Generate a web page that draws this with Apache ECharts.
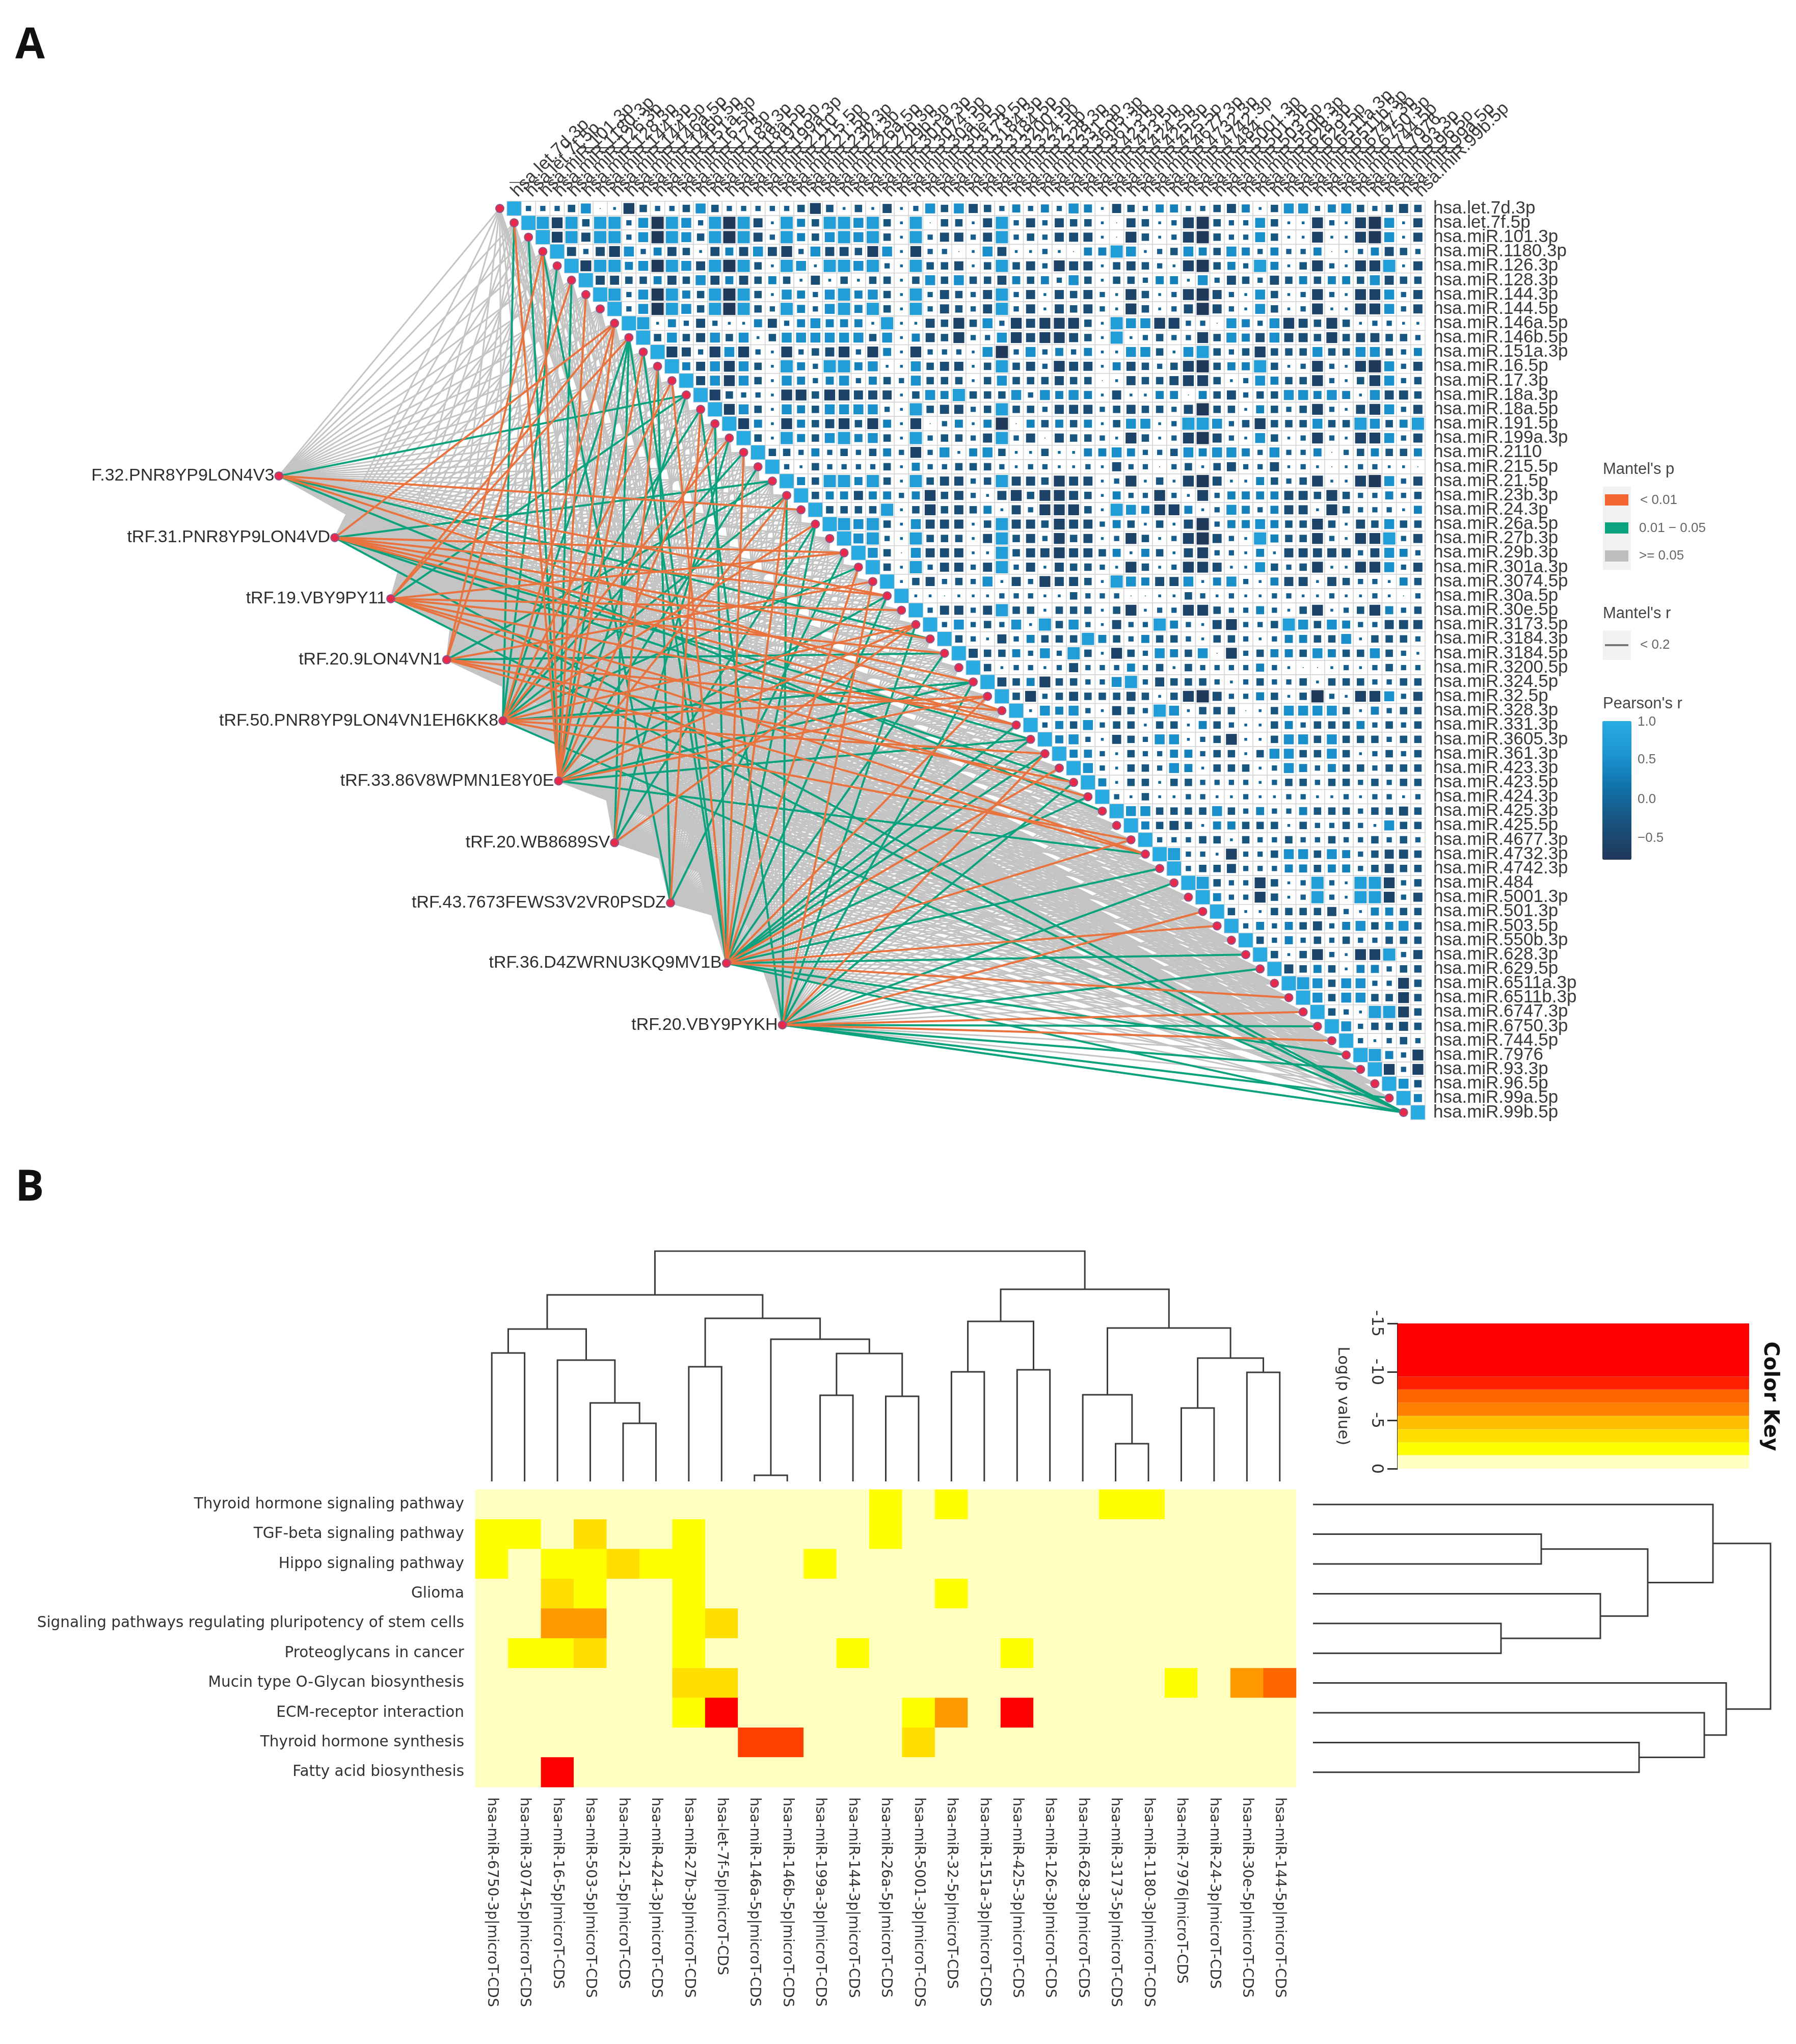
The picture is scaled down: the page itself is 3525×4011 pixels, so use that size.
<!DOCTYPE html>
<html><head><meta charset="utf-8">
<style>html,body{margin:0;padding:0;background:#fff}#c{width:3525px;height:4011px}</style>
<script src="https://cdn.jsdelivr.net/npm/echarts@6/dist/echarts.min.js"></script>
</head><body><div id="c"></div>
<script>
// ---------- Panel A data ----------
const mirNames = ['hsa.let.7d.3p','hsa.let.7f.5p','hsa.miR.101.3p','hsa.miR.1180.3p','hsa.miR.126.3p','hsa.miR.128.3p','hsa.miR.144.3p','hsa.miR.144.5p','hsa.miR.146a.5p','hsa.miR.146b.5p','hsa.miR.151a.3p','hsa.miR.16.5p','hsa.miR.17.3p','hsa.miR.18a.3p','hsa.miR.18a.5p','hsa.miR.191.5p','hsa.miR.199a.3p','hsa.miR.2110','hsa.miR.215.5p','hsa.miR.21.5p','hsa.miR.23b.3p','hsa.miR.24.3p','hsa.miR.26a.5p','hsa.miR.27b.3p','hsa.miR.29b.3p','hsa.miR.301a.3p','hsa.miR.3074.5p','hsa.miR.30a.5p','hsa.miR.30e.5p','hsa.miR.3173.5p','hsa.miR.3184.3p','hsa.miR.3184.5p','hsa.miR.3200.5p','hsa.miR.324.5p','hsa.miR.32.5p','hsa.miR.328.3p','hsa.miR.331.3p','hsa.miR.3605.3p','hsa.miR.361.3p','hsa.miR.423.3p','hsa.miR.423.5p','hsa.miR.424.3p','hsa.miR.425.3p','hsa.miR.425.5p','hsa.miR.4677.3p','hsa.miR.4732.3p','hsa.miR.4742.3p','hsa.miR.484','hsa.miR.5001.3p','hsa.miR.501.3p','hsa.miR.503.5p','hsa.miR.550b.3p','hsa.miR.628.3p','hsa.miR.629.5p','hsa.miR.6511a.3p','hsa.miR.6511b.3p','hsa.miR.6747.3p','hsa.miR.6750.3p','hsa.miR.744.5p','hsa.miR.7976','hsa.miR.93.3p','hsa.miR.96.5p','hsa.miR.99a.5p','hsa.miR.99b.5p'];
// Pearson's r read per cell as a class; each row starts on the diagonal.
const pearsonClass = {'0':0.004,'1':-0.04,'2':-0.14,'3':-0.28,'4':-0.42,'5':-0.6,'6':-0.76,'7':0.33,'8':0.5,'9':0.76,'a':1};
const pearsonRows = [
'a2223801532238322222353131'+'41283843272728714327722347138827832343',
'a9593992869829694197'+'39989'+'3190331492424331043125632283115215'+'6814',
'a5949928698396942973'+'8989'+'3192442492324441053125632283115115'+'6814',
'a4245827431474845284'+'435'+'81522018411210779812387387272270127432',
'a5997869849693198199'+'89'+'21933413934254413432156372971352155914',
'a4433743847437314131'+'3'+'31383833473728313327718243243737738433',
'a928697396'+'9318728978'+'31924324924143421531256421831252155824',
'a286983969'+'329728979'+'31924324924143421531246421831251155824',
'a917242117'+'42787771'+'91143538254555319885522087285435312211',
'a383483813'+'8888883'+'81743522854554319123225387484435344332',
'a542585215'+'234525'+'71522218628272711883189323533383388327',
'a748583197'+'29978'+'11834413934254417432356377931252156824',
'a485831872'+'7827'+'32833313833343301433455312873352135823',
'a532215535'+'544'+'41387933382878714117707342338878718443',
'a583187388'+'88'+'21934423933244423433246331732352145824',
'a571573453'+'5'+'71502717607373713881299823533383398379',
'a319738978'+'31923324924043321531256421831252155824',
'a33272323'+'72528178311311778722387887282270237337',
'a2132222'+'31722333212211214220231342241210122110',
'a739979'+'31934423944354412513156411732351156824',
'a37747'+'72753421453554317225215277774435322723',
'a3333'+'91353437142555319875571287274415322217',
'a989'+'31844413944354427313146277873353143833',
'a89'+'21933314934253412531256421973352155924',
'a8'+'30844411934454437173145221714444424872',
'a'+'31924424924143321531255411832351155824',
'a'+'1342328142544319874481782174414322173',
'a'+'110111222113222001132121122112112102',
'a'+'24424933133313512255322721351235723',
'a'+'2823281938214229721452239838722444',
'a'+'321427333973273321332127733813332',
'a'+'43372829315328738052377387338321',
'a'+'3122124222723132222721001212322',
'a'+'437533228924333212322313332233',
'a'+'35234333431356422731362155824',
'a'+'1878214329813330138888317233',
'a'+'273823313317321137233372323',
'a'+'78214328812351138838333233',
'a'+'7721322772331388338312323',
'a'+'821332871333128727332333',
'a'+'71331332222123323323233',
'a'+'2131122112112211212212',
'a'+'883333832722733323343',
'a'+'73431773331322321833',
'a'+'2223313223223223232',
'a'+'922152238838723443',
'a'+'23342227737723433',
'a'+'9322531292199523',
'a'+'722531292199524',
'a'+'31133334217733',
'a'+'2727342783783',
'a'+'327232322333',
'a'+'31352155924',
'a'+'4373177233',
'a'+'983882253',
'a'+'83883353',
'a'+'3219953',
'a'+'823343',
'a'+'21232',
'a'+'9725',
'a'+'525',
'a'+'83',
'a'+'7',
'a'];
// Mantel nodes on the left, in units of matrix cells
const trfNames = ['F.32.PNR8YP9LON4V3','tRF.31.PNR8YP9LON4VD','tRF.19.VBY9PY11','tRF.20.9LON4VN1','tRF.50.PNR8YP9LON4VN1EH6KK8','tRF.33.86V8WPMN1E8Y0E','tRF.20.WB8689SV','tRF.43.7673FEWS3V2VR0PSDZ','tRF.36.D4ZWRNU3KQ9MV1B','tRF.20.VBY9PYKH'];
const trfX = [-15.9,-12.0,-8.1,-4.2,-0.28,3.6,7.5,11.4,15.3,19.2];
const trfY = [19.14,23.44,27.7,31.95,36.2,40.4,44.7,48.9,53.1,57.4];
const orangeLinks = [[21,27,35],[8,24,27,30,33,36],[8,9,24,28,31,36,41,45],[3,5,26,35,40,45],[8,12,16,22,29,34,38,44],[1,3,6,8,10,15,20,29,34],[11,29],[14],[12,17,20,25,34,39,44,50,55],[26,38,49,56,58]];
const greenLinks = [[13,30,42],[19,37,40,63],[13,63],[19,31],[1,4,9,14,17,20,25,33,63],[2,5,9,13,18,27,33,37,45],[9,16,22],[3,11,24],[9,10,15,22,27,31,36,37,38,41,46,52,59,63],[14,20,29,33,40,47,53,57,60,62,63]];

// ---------- Panel B data ----------
const pathways = ['Thyroid hormone signaling pathway','TGF-beta signaling pathway','Hippo signaling pathway','Glioma','Signaling pathways regulating pluripotency of stem cells','Proteoglycans in cancer','Mucin type O-Glycan biosynthesis','ECM-receptor interaction','Thyroid hormone synthesis','Fatty acid biosynthesis'];
const mirTargets = ['hsa-miR-6750-3p|microT-CDS','hsa-miR-3074-5p|microT-CDS','hsa-miR-16-5p|microT-CDS','hsa-miR-503-5p|microT-CDS','hsa-miR-21-5p|microT-CDS','hsa-miR-424-3p|microT-CDS','hsa-miR-27b-3p|microT-CDS','hsa-let-7f-5p|microT-CDS','hsa-miR-146a-5p|microT-CDS','hsa-miR-146b-5p|microT-CDS','hsa-miR-199a-3p|microT-CDS','hsa-miR-144-3p|microT-CDS','hsa-miR-26a-5p|microT-CDS','hsa-miR-5001-3p|microT-CDS','hsa-miR-32-5p|microT-CDS','hsa-miR-151a-3p|microT-CDS','hsa-miR-425-3p|microT-CDS','hsa-miR-126-3p|microT-CDS','hsa-miR-628-3p|microT-CDS','hsa-miR-3173-5p|microT-CDS','hsa-miR-1180-3p|microT-CDS','hsa-miR-7976|microT-CDS','hsa-miR-24-3p|microT-CDS','hsa-miR-30e-5p|microT-CDS','hsa-miR-144-5p|microT-CDS'];
const logPClass = [0,-2,-3.4,-4.8,-6,-7.5,-8.8,-12];
const heatRows = ['0000000000001010000110000','1102001000001000000000000','1011211000100000000000000','0021001000000010000000000','0044001200000000000000000','0112001000010000100000000','0000002200000000000001045','0000001700000140700000000','0000000066000200000000000','0070000000000000000000000'];
const heatPieces = [[-1.39,0,'#ffffbf'],[-2.71,-1.39,'#ffff00'],[-4.08,-2.71,'#ffdf00'],[-5.46,-4.08,'#ffbf00'],[-6.8,-5.46,'#ff9900'],[-8.17,-6.8,'#ff6600'],[-9.5,-8.17,'#ff4000'],[-16,-9.5,'#ff0000']];
// Color key band thickness, bottom to top, in log p units
const keyBands = [1.39,1.32,1.37,1.38,1.34,1.37,1.33,5.5];
const keyColors = ['#ffffbf','#ffff00','#ffdf00','#ffbf00','#ff8000','#ff6600','#ff2000','#ff0000'];
// Dendrograms: [childA, childB, height]; children < leaf count are leaves, others are earlier merges
const colMerges = [[0,1,252],[4,5,114],[3,26,154],[2,27,238],[25,28,299],[6,7,225],[8,9,12],[10,11,169],[12,13,167],[32,33,251],[31,34,279],[30,35,320],[29,36,366],[14,15,215],[16,17,219],[38,39,314],[19,20,74],[18,41,170],[21,22,144],[23,24,214],[43,44,242],[42,45,301],[40,46,377],[37,47,452]];
const rowMerges = [[1,2,448],[4,5,369],[3,11,564],[10,12,657],[0,13,785],[8,9,640],[7,15,768],[6,16,811],[14,17,898]];

// ---------- Geometry ----------
const CELL = 28.156, A_LEFT = 995, A_TOP = 395;
const B_LEFT = 933, B_TOP = 2923, B_W = 1611, B_H = 584;
const SANS = '"Liberation Sans", Arial, sans-serif', DEJA = '"DejaVu Sans", sans-serif';

// ---------- Build marks ----------
const cellData = [], outlineData = [];
pearsonRows.forEach((s, r) => { for (let i = 0; i < s.length; i++) {
  cellData.push([r + i, r, pearsonClass[s[i]]]); outlineData.push([r + i, r]); } });
const diagNode = k => [k - 0.5, k + 0.5];
const linkSets = {gray: [], orange: [], green: []};
trfX.forEach((x, t) => {
  for (let k = 0; k < mirNames.length; k++) {
    const c = {coords: [[x, trfY[t]], diagNode(k)]};
    if (orangeLinks[t].includes(k)) linkSets.orange.push(c);
    else if (greenLinks[t].includes(k)) linkSets.green.push(c);
    else linkSets.gray.push(c);
  }
});
const heatData = [];
heatRows.forEach((s, r) => { for (let c = 0; c < s.length; c++) heatData.push([c, r, logPClass[+s[c]]]); });
function dendro(merges, nLeaves) {
  const pos = i => i < nLeaves ? [i + 0.5, 0] : null, nodes = [], out = [];
  const get = i => i < nLeaves ? pos(i) : nodes[i - nLeaves];
  merges.forEach(m => { const a = get(m[0]), b = get(m[1]);
    out.push({a, b, h: m[2]}); nodes.push([(a[0] + b[0]) / 2, m[2]]); });
  return out;
}
const topLines = dendro(colMerges, 25).map(d => ({coords: [[d.a[0], d.a[1]], [d.a[0], d.h], [d.b[0], d.h], [d.b[0], d.b[1]]]}));
const rightLines = dendro(rowMerges, 10).map(d => ({coords: [[d.a[1], d.a[0]], [d.h, d.a[0]], [d.h, d.b[0]], [d.b[1], d.b[0]]]}));

const chart = echarts.init(document.getElementById('c'), null, {renderer: 'canvas', width: 3525, height: 4011, devicePixelRatio: 1});

// legend drawing helpers
const T = (text, x, y, size, fill, extra) => ({type: 'text', x, y, silent: true, style: Object.assign({text, fontSize: size, fontFamily: SANS, fill, textVerticalAlign: 'middle'}, extra || {})});
const R = (x, y, w, h, fill) => ({type: 'rect', silent: true, shape: {x, y, width: w, height: h}, style: {fill}});
const L = (x1, y1, x2, y2, stroke, w) => ({type: 'line', silent: true, shape: {x1, y1, x2, y2}, style: {stroke, lineWidth: w}});

chart.setOption({
  animation: false, backgroundColor: '#fff',
  grid: [
    {left: A_LEFT, top: A_TOP, width: CELL * 64, height: CELL * 64},
    {left: A_LEFT - 20 * CELL, top: A_TOP, width: CELL * 84, height: CELL * 64},
    {left: B_LEFT, top: B_TOP, width: B_W, height: B_H},
    {left: B_LEFT, top: 2455, width: B_W, height: 452},
    {left: 2577, top: B_TOP, width: 898, height: B_H},
    {left: 2743, top: 2597, width: 690, height: 285}
  ],
  xAxis: [
    {gridIndex: 0, type: 'category', data: mirNames, position: 'top', axisLine: {show: false}, axisTick: {show: false}, splitLine: {show: false},
      axisLabel: {interval: 0, rotate: -45, align: 'left', verticalAlign: 'middle', margin: 14, fontSize: 35, fontFamily: SANS, color: '#3a3a3a', hideOverlap: false}},
    {gridIndex: 1, type: 'value', show: false, min: -20, max: 64},
    {gridIndex: 2, type: 'category', data: mirTargets, axisLine: {show: false}, axisTick: {show: false}, splitLine: {show: false},
      axisLabel: {interval: 0, rotate: -90, margin: 20, fontSize: 28, fontFamily: DEJA, color: '#333', hideOverlap: false}},
    {gridIndex: 3, type: 'value', show: false, min: 0, max: 25},
    {gridIndex: 4, type: 'value', show: false, min: 0, max: 898},
    {gridIndex: 5, type: 'category', data: ['key'], show: false}
  ],
  yAxis: [
    {gridIndex: 0, type: 'category', data: mirNames, inverse: true, position: 'right', axisLine: {show: false}, axisTick: {show: false}, splitLine: {show: false},
      axisLabel: {interval: 0, margin: 16, fontSize: 35, fontFamily: SANS, color: '#3a3a3a', hideOverlap: false}},
    {gridIndex: 1, type: 'value', show: false, inverse: true, min: 0, max: 64},
    {gridIndex: 2, type: 'category', data: pathways, inverse: true, axisLine: {show: false}, axisTick: {show: false}, splitLine: {show: false},
      axisLabel: {interval: 0, margin: 22, fontSize: 29.5, fontFamily: DEJA, color: '#333', hideOverlap: false}},
    {gridIndex: 3, type: 'value', show: false, min: 0, max: 452},
    {gridIndex: 4, type: 'value', show: false, inverse: true, min: 0, max: 10},
    {gridIndex: 5, type: 'value', inverse: true, min: -15, max: 0, interval: 5, splitLine: {show: false},
      axisLine: {show: true, onZero: false, lineStyle: {color: '#222', width: 2}},
      axisTick: {show: true, length: 20, lineStyle: {color: '#333', width: 3}},
      axisLabel: {rotate: -90, margin: 26, fontSize: 32, fontFamily: DEJA, color: '#333'},
      name: 'Log(p value)', nameLocation: 'middle', nameRotate: -90, nameGap: 92, nameTextStyle: {fontSize: 31, fontFamily: DEJA, color: '#333'}}
  ],
  visualMap: [
    {type: 'continuous', seriesIndex: 1, dimension: 2, min: -0.78, max: 1, calculable: false, show: true, realtime: false,
      left: 3145, top: 1415, itemWidth: 57, itemHeight: 272, padding: 0, text: ['', ''], textGap: 0, hoverLink: false,
      inRange: {color: ['#20385a', '#19517a', '#0f6fa5', '#1a93d0', '#29abe2']}},
    {type: 'piecewise', seriesIndex: 8, dimension: 2, show: false,
      pieces: heatPieces.map(p => ({gte: p[0], lte: p[1], color: p[2]}))}
  ],
  series: [
    {type: 'scatter', xAxisIndex: 0, yAxisIndex: 0, z: 2, symbol: 'rect', symbolSize: CELL, data: outlineData, silent: true,
      itemStyle: {color: '#fff', borderColor: '#d4d4d4', borderWidth: 1.5, opacity: 1}},
    {type: 'scatter', xAxisIndex: 0, yAxisIndex: 0, z: 3, symbol: 'rect', data: cellData, silent: true, itemStyle: {opacity: 1},
      symbolSize: v => Math.sqrt(Math.abs(v[2])) * 27.5, encode: {x: 0, y: 1}},
    {type: 'lines', coordinateSystem: 'cartesian2d', xAxisIndex: 1, yAxisIndex: 1, z: 1, silent: true, data: linkSets.gray, lineStyle: {color: '#c4c4c4', width: 3, opacity: 1}},
    {type: 'lines', coordinateSystem: 'cartesian2d', xAxisIndex: 1, yAxisIndex: 1, z: 1, silent: true, data: linkSets.green, lineStyle: {color: '#0ca27e', width: 4, opacity: 1}},
    {type: 'lines', coordinateSystem: 'cartesian2d', xAxisIndex: 1, yAxisIndex: 1, z: 1, silent: true, data: linkSets.orange, lineStyle: {color: '#e9733f', width: 4, opacity: 1}},
    {type: 'scatter', xAxisIndex: 1, yAxisIndex: 1, z: 4, symbolSize: 16, silent: true, itemStyle: {color: '#e8294c', borderColor: '#8a5a8c', borderWidth: 2, opacity: 1},
      data: mirNames.map((n, k) => diagNode(k))},
    {type: 'scatter', xAxisIndex: 1, yAxisIndex: 1, z: 4, symbolSize: 16, silent: true, itemStyle: {color: '#e8294c', borderColor: '#8a5a8c', borderWidth: 2, opacity: 1},
      data: trfNames.map((n, t) => ({value: [trfX[t], trfY[t]], name: n})),
      label: {show: true, position: 'left', distance: 0, formatter: '{b}', fontSize: 34, fontFamily: SANS, color: '#2e2e2e'}, labelLayout: {hideOverlap: false}},
    {type: 'lines', coordinateSystem: 'cartesian2d', xAxisIndex: 3, yAxisIndex: 3, polyline: true, silent: true, data: topLines, lineStyle: {color: '#3a3a3a', width: 3, opacity: 1}},
    {type: 'heatmap', xAxisIndex: 2, yAxisIndex: 2, data: heatData, silent: true, emphasis: {disabled: true}},
    {type: 'lines', coordinateSystem: 'cartesian2d', xAxisIndex: 4, yAxisIndex: 4, polyline: true, silent: true, data: rightLines, lineStyle: {color: '#3a3a3a', width: 3, opacity: 1}}
  ].concat(keyBands.map((b, i) => ({type: 'bar', xAxisIndex: 5, yAxisIndex: 5, stack: 'key', barWidth: '100%', silent: true, data: [-b], itemStyle: {color: keyColors[i]}}))),
  graphic: {elements: [
    T('A', 30, 90, 84, '#111', {fontFamily: '"Open Sans", sans-serif', fontWeight: 'bold'}),
    T('B', 30, 2332, 84, '#111', {fontFamily: '"Open Sans", sans-serif', fontWeight: 'bold'}),
    L(1140, 290, 2873, 290, '#333', 2), L(1000, 358, 2800, 358, '#666', 2),
    T("Mantel's p", 3146, 921, 31, '#444'),
    R(3146, 955, 55, 163, '#f2f2f2'),
    R(3150, 970, 46, 22, '#f2652f'), R(3150, 1025, 46, 22, '#0ba37f'), R(3150, 1080, 46, 22, '#bebebe'),
    T('< 0.01', 3219, 982, 26, '#666'), T('0.01 \u2212 0.05', 3217, 1037, 26, '#666'), T('>= 0.05', 3217, 1091, 26, '#666'),
    T("Mantel's r", 3146, 1204, 31, '#444'),
    R(3146, 1237, 55, 58, '#f2f2f2'), L(3150, 1266, 3196, 1266, '#777', 4),
    T('< 0.2', 3219, 1266, 26, '#666'),
    T("Pearson's r", 3146, 1381, 31, '#444'),
    T('1.0', 3214, 1417, 26, '#666'), T('0.5', 3214, 1491, 26, '#666'), T('0.0', 3214, 1569, 26, '#666'), T('\u22120.5', 3214, 1645, 26, '#666'),
    L(3145, 1569, 3156, 1569, '#7fa9c4', 2), L(3191, 1569, 3202, 1569, '#7fa9c4', 2),
    L(3145, 1645, 3156, 1645, '#7f9fb4', 2), L(3191, 1645, 3202, 1645, '#7f9fb4', 2),
    {type: 'text', x: 3473, y: 2740, rotation: -Math.PI / 2, silent: true, style: {text: 'Color Key', fontSize: 40, fontWeight: 'bold', fontFamily: DEJA, fill: '#111', textAlign: 'center', textVerticalAlign: 'middle'}}
  ]}
});
</script></body></html>
